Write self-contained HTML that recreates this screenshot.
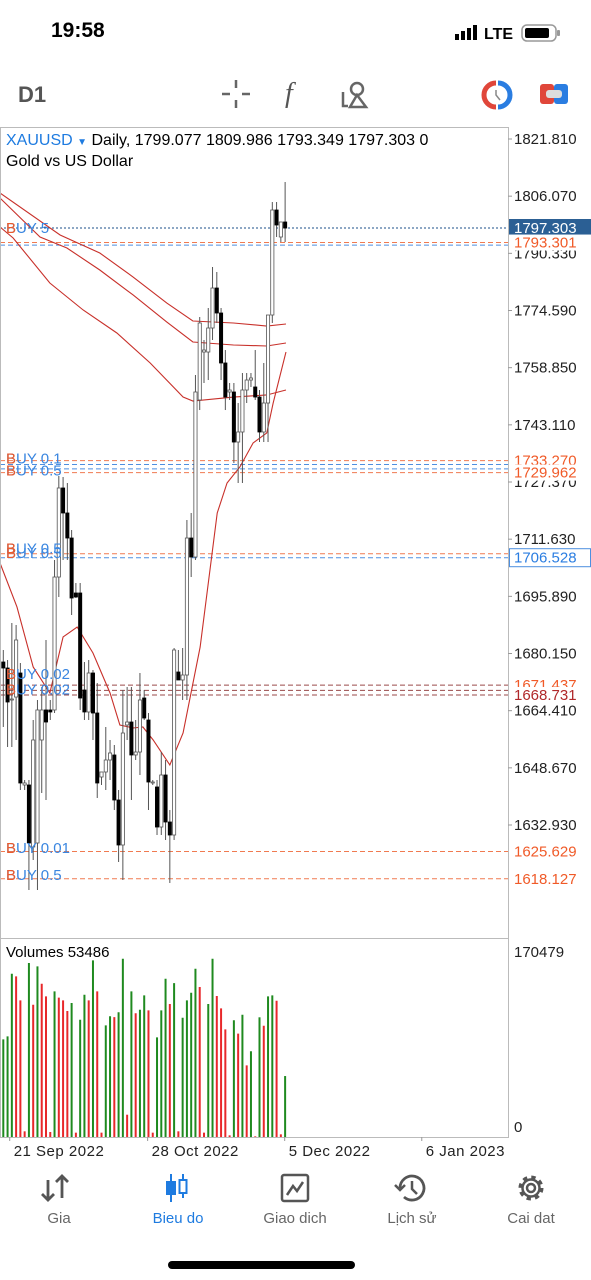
<!DOCTYPE html>
<html><head><meta charset="utf-8">
<style>
html,body{margin:0;padding:0;background:#fff;}
body{width:591px;height:1280px;position:relative;overflow:hidden;font-family:"Liberation Sans",sans-serif;color:#000;}
.abs{position:absolute;}
.tab{position:absolute;top:1210px;font-size:15px;color:#666;text-align:center;width:110px;}
</style></head>
<body>
<div class="abs" style="left:51px;top:19px;font-size:21px;font-weight:bold;">19:58</div>
<div class="abs" style="left:455px;top:22px;font-size:16px;font-weight:bold;">
  <svg width="110" height="22" style="vertical-align:middle"><rect x="0" y="12" width="4" height="6" fill="#000"/><rect x="6" y="9" width="4" height="9" fill="#000"/><rect x="12" y="6" width="4" height="12" fill="#000"/><rect x="18" y="3" width="4" height="15" fill="#000"/><text x="29" y="17" font-size="16" font-weight="bold" font-family="Liberation Sans">LTE</text><rect x="67" y="3" width="34" height="16" rx="5" fill="none" stroke="#999" stroke-width="1.5"/><rect x="70" y="6" width="24" height="10" rx="2" fill="#000"/><rect x="102" y="8" width="3" height="6" rx="1" fill="#999"/></svg>
</div>
<div class="abs" style="left:18px;top:82px;font-size:22px;font-weight:bold;color:#555;">D1</div>
<svg class="abs" style="left:220px;top:78px" width="40" height="34"><g stroke="#666" stroke-width="2.5"><line x1="16" y1="2" x2="16" y2="10"/><line x1="16" y1="22" x2="16" y2="30"/><line x1="2" y1="16" x2="10" y2="16"/><line x1="22" y1="16" x2="30" y2="16"/></g></svg>
<div class="abs" style="left:285px;top:78px;font-size:28px;font-style:italic;color:#555;font-family:'Liberation Serif',serif;">f</div>
<svg class="abs" style="left:340px;top:80px" width="32" height="30"><g stroke="#666" stroke-width="2.5" fill="none"><path d="M3 12 V26 H8"/><circle cx="17" cy="9" r="6"/><path d="M17 15 L10 27 H26 Z"/></g></svg>
<svg class="abs" style="left:481px;top:80px" width="32" height="30"><path d="M15 3 A12 12 0 0 0 15 27" stroke="#e0463a" stroke-width="5" fill="none"/><path d="M17 3 A12 12 0 0 1 17 27" stroke="#2a7de1" stroke-width="5" fill="none"/><path d="M15 10 L15 15 L19 20" stroke="#888" stroke-width="1.5" fill="none"/></svg>
<svg class="abs" style="left:539px;top:82px" width="32" height="26"><rect x="1" y="2" width="14" height="20" rx="3" fill="#e0463a"/><rect x="15" y="2" width="14" height="20" rx="3" fill="#2a7de1"/><rect x="7" y="8" width="16" height="8" rx="3" fill="#ddd"/></svg>

<svg id="chart" class="abs" style="left:0;top:0" width="591" height="1170"></svg>

<div class="abs" style="left:6px;top:132px;font-size:16px;white-space:nowrap;"><span style="color:#1e7be0">XAUUSD</span> <span style="color:#1e7be0;font-size:10px">▼</span> Daily, 1799.077 1809.986 1793.349 1797.303 0</div>
<div class="abs" style="left:6px;top:153px;font-size:16px;">Gold vs US Dollar</div>
<div class="abs" style="left:6px;top:944px;font-size:15px;">Volumes 53486</div>

<svg class="abs" style="left:40px;top:1172px" width="34" height="32"><g stroke="#555" stroke-width="2.8" fill="none"><path d="M8 8 V28 M2 22 L8 28 L14 22"/><path d="M22 26 V4 M16 10 L22 4 L28 10"/></g></svg>
<div class="tab" style="left:4px;">Gia</div>
<svg class="abs" style="left:162px;top:1172px" width="30" height="32"><g fill="#1e7be0" stroke="#1e7be0" stroke-width="2"><line x1="9" y1="2" x2="9" y2="30"/><rect x="5" y="10" width="8" height="12"/><line x1="21" y1="2" x2="21" y2="26"/><rect x="17.5" y="8" width="7" height="13" fill="#fff"/></g></svg>
<div class="tab" style="left:123px;color:#1e7be0;">Bieu do</div>
<svg class="abs" style="left:280px;top:1173px" width="32" height="32"><rect x="2" y="2" width="26" height="26" rx="2" stroke="#555" stroke-width="2.5" fill="none"/><path d="M7 22 L13 13 L17 18 L23 9" stroke="#555" stroke-width="2.5" fill="none"/></svg>
<div class="tab" style="left:240px;">Giao dich</div>
<svg class="abs" style="left:394px;top:1172px" width="36" height="32"><path d="M6 16 A12 12 0 1 1 10 25" stroke="#555" stroke-width="2.8" fill="none"/><path d="M1 13 L6 18 L11 13" stroke="#555" stroke-width="2.5" fill="none"/><path d="M18 9 V17 L23 22" stroke="#555" stroke-width="2.5" fill="none"/></svg>
<div class="tab" style="left:357px;">Lịch sử</div>
<svg class="abs" style="left:515px;top:1172px" width="32" height="32"><circle cx="16" cy="16" r="10" stroke="#555" stroke-width="5" stroke-dasharray="4 3.85" fill="none"/><circle cx="16" cy="16" r="8.5" stroke="#555" stroke-width="2.5" fill="#fff"/><circle cx="16" cy="16" r="4" stroke="#555" stroke-width="2.5" fill="none"/></svg>
<div class="tab" style="left:476px;">Cai dat</div>
<div class="abs" style="left:168px;top:1261px;width:187px;height:8px;border-radius:4px;background:#000;"></div>

<script>
const opens=[1677.81,1676.16,1667.35,1668.17,1674.78,1643.95,1643.95,1626.88,1627.98,1656.34,1664.60,1664.60,1664.60,1701.21,1725.72,1718.84,1711.95,1696.81,1696.81,1670.10,1664.05,1674.78,1663.77,1646.15,1647.53,1650.83,1652.21,1639.82,1627.43,1660.47,1661.29,1652.21,1653.03,1667.90,1661.84,1644.50,1643.40,1632.38,1646.70,1633.76,1630.18,1675.06,1672.86,1674.23,1711.95,1706.72,1749.95,1763.16,1763.16,1769.77,1780.78,1773.90,1760.14,1752.15,1752.15,1738.38,1741.14,1752.70,1755.45,1753.53,1750.77,1741.14,1749.12,1773.35,1802.26,1794.83,1798.96];
const highs=[1681.12,1678.36,1688.55,1688.00,1677.54,1645.32,1645.32,1661.84,1667.35,1670.93,1683.87,1667.35,1705.90,1729.02,1728.75,1727.10,1714.16,1699.56,1699.56,1677.81,1678.36,1675.61,1672.03,1647.53,1659.92,1656.34,1654.96,1642.57,1670.10,1670.93,1670.93,1661.84,1674.78,1670.10,1663.77,1645.32,1645.32,1653.03,1650.83,1637.06,1681.67,1681.12,1681.67,1716.91,1718.84,1756.83,1772.80,1766.47,1775.28,1786.57,1785.19,1775.28,1763.71,1754.63,1754.63,1749.12,1757.38,1757.38,1757.38,1763.71,1752.70,1760.14,1763.71,1804.46,1804.46,1798.96,1809.97];
const lows=[1659.92,1654.41,1654.41,1656.34,1642.57,1642.57,1615.04,1623.30,1615.04,1641.74,1639.82,1661.84,1663.77,1695.71,1705.90,1705.90,1690.75,1695.43,1664.60,1661.84,1661.84,1656.34,1640.37,1643.95,1642.57,1645.32,1637.06,1622.75,1617.79,1656.34,1639.82,1650.83,1646.70,1661.84,1637.06,1643.95,1630.18,1630.18,1628.80,1616.97,1628.80,1672.86,1667.35,1667.35,1701.21,1705.90,1747.19,1754.63,1755.45,1766.47,1771.15,1755.45,1747.19,1749.95,1732.60,1727.10,1727.10,1749.12,1753.53,1749.95,1738.38,1738.38,1738.38,1771.15,1794.83,1793.45,1793.45];
const closes=[1676.16,1666.80,1667.62,1683.87,1644.50,1644.50,1627.98,1656.34,1664.60,1664.60,1661.29,1664.05,1701.21,1725.72,1718.84,1711.95,1695.43,1695.71,1667.90,1664.05,1674.78,1663.77,1644.50,1647.53,1650.83,1652.76,1639.82,1627.43,1658.26,1661.29,1652.21,1653.03,1667.35,1662.39,1644.77,1644.77,1632.38,1646.70,1633.76,1630.18,1681.12,1672.86,1674.23,1711.95,1706.72,1752.15,1771.15,1763.71,1769.77,1780.78,1773.90,1760.14,1750.77,1752.70,1738.38,1741.14,1752.70,1755.45,1756.01,1750.77,1741.14,1749.12,1773.35,1802.26,1798.13,1798.96,1797.30];
const volumes=[87600,90300,146500,144100,122600,5100,156100,118700,153100,137500,126200,4500,130700,125000,122600,113000,120200,3900,105200,127600,122600,158500,130700,3900,100200,108300,107600,111900,159900,20000,130700,111000,114200,127100,113600,3900,89400,113600,142000,119300,138100,5100,107000,122600,129400,151000,134600,3900,119300,159900,126500,115400,96600,1500,104700,92700,109700,64300,76900,600,107400,99800,126200,127100,122300,2400,54700];
const envTopIdx=[-0.77,13.3,22.6,30.4,38.3,44.4,53.9,61.7,66.2];
const envTopVal=[1806.94,1795.38,1790.42,1783.81,1776.65,1771.70,1771.15,1770.32,1770.87];
const envMidIdx=[-0.77,8.6,14.9,22.6,30.4,38.3,44.4,53.9,61.7,66.2];
const envMidVal=[1805.56,1794.83,1791.80,1785.74,1778.86,1771.42,1765.92,1765.09,1764.82,1765.64];
const envLowIdx=[-0.77,2.3,10.9,18.7,26.6,34.4,42.1,44.4,53.9,61.7,66.2];
const envLowVal=[1797.58,1794.55,1782.16,1774.73,1768.40,1760.14,1750.77,1749.67,1750.77,1751.33,1752.70];
const maIdx=[-0.77,3.2,7.0,10.9,14.0,17.3,21.0,25.0,27.3,30.4,32.7,35.1,39.0,42.1,46.1,50.1,52.4,55.4,58.5,61.7,63.2,66.2];
const maVal=[1705.07,1692.96,1676.44,1669.28,1684.70,1687.45,1680.29,1669.28,1660.47,1659.64,1659.92,1656.34,1649.46,1658.26,1681.94,1718.84,1727.10,1731.51,1738.12,1740.87,1749.12,1763.16];
const priceTicks=[1821.810,1806.070,1790.330,1774.590,1758.850,1743.110,1727.370,1711.630,1695.890,1680.150,1664.410,1648.670,1632.930];
const volTicks=[170479,0];
const dateLabels=["21 Sep 2022","28 Oct 2022","5 Dec 2022","6 Jan 2023"];
const dateIdx=[1.5,33.8,65.9,98];
const levelPrices=[1797.303,1793.301,1792.6,1733.270,1732.2,1731.0,1729.962,1707.6,1706.528,1671.437,1670.0,1668.731,1625.629,1618.127];
const levelKinds=["cur","sl","buy","sl","buy","buy","sl","sl","buy","dk","dk","dk","sl","sl"];
const axisLabelPrices=[1797.303,1793.301,1733.270,1729.962,1706.528,1671.437,1668.731,1625.629,1618.127];
const axisLabelKinds=["cur","sl","sl","sl","buy","sl","dk","sl","sl"];
const orderLabels=[["BUY 5",1797.303],["BUY 0.1",1733.9],["BUY 0.5",1730.5],["BUY 0.5",1709.0],["BUY 0.5",1707.8],["BUY 0.02",1674.5],["BUY 0.02",1670.2],["BUY 0.01",1626.6],["BUY 0.5",1619.2]];

const NS="http://www.w3.org/2000/svg";
const svg=document.getElementById('chart');
const PX0=3.3, STEP=4.27;
function xOf(i){return PX0+i*STEP;}
function yOf(p){return 139+(1821.81-p)*3.632;}
function yVol(v){return 1137-v/170479*190;}
function mk(tag,attrs,parent){const e=document.createElementNS(NS,tag);for(const k in attrs)e.setAttribute(k,attrs[k]);(parent||svg).appendChild(e);return e;}

const frame=mk('g',{});


mk('rect',{x:0.5,y:127.5,width:508,height:1010,fill:'none',stroke:'#bbb','stroke-width':1},frame);
mk('line',{x1:0,y1:938.5,x2:508,y2:938.5,stroke:'#bbb'},frame);

const clipDef=mk('defs',{});
const cp=mk('clipPath',{id:'plot'},clipDef);
mk('rect',{x:1,y:128,width:507,height:810},cp);

const colors={cur:'#1b4f8a',sl:'#f07a50',buy:'#4d8fe0',dk:'#9a4a4a'};
const lv=mk('g',{'clip-path':'url(#plot)'});


levelPrices.forEach((p,k)=>{
  const l=mk('line',{x1:0,x2:508,y1:yOf(p),y2:yOf(p),stroke:colors[levelKinds[k]],'stroke-width':1,'stroke-dasharray':levelKinds[k]==='cur'?'2 2':'5 3'},lv);
  
  
});

function poly(idx,val,name){
  const pts=idx.map((v,i)=>xOf(v)+','+yOf(val[i])).join(' ');
  const pl=mk('polyline',{points:pts,fill:'none',stroke:'#c8302a','stroke-width':1.1,'clip-path':'url(#plot)'});
  
  
}
poly(envTopIdx,envTopVal,'envelope-upper');
poly(envMidIdx,envMidVal,'envelope-middle');
poly(envLowIdx,envLowVal,'envelope-lower');
poly(maIdx,maVal,'moving-average');

const cg=mk('g',{'clip-path':'url(#plot)'});
for(let i=0;i<opens.length;i++){
  const x=xOf(i), o=opens[i], c=closes[i];
  const g=mk('g',{},cg);
  
  
  mk('line',{x1:x,x2:x,y1:yOf(highs[i]),y2:yOf(lows[i]),stroke:'#555','stroke-width':1},g);
  const top=yOf(Math.max(o,c)), bot=yOf(Math.min(o,c));
  mk('rect',{x:x-1.6,y:top,width:3.2,height:Math.max(1,bot-top),fill:c>=o?'#fff':'#000',stroke:c>=o?'#555':'#000','stroke-width':0.8},g);
}

for(let i=0;i<volumes.length;i++){
  const up=i===0||volumes[i]>=volumes[i-1];
  const b=mk('line',{x1:xOf(i),x2:xOf(i),y1:1137,y2:yVol(volumes[i]),stroke:up?'#1f8a1f':'#e8282a','stroke-width':2});
  
  
}

priceTicks.forEach(p=>{
  const t=mk('text',{x:514,y:yOf(p)+5,'font-size':15,'font-family':'Liberation Sans',fill:'#222'});
  t.textContent=p.toFixed(3);
  
  
  mk('line',{x1:508,x2:512,y1:yOf(p),y2:yOf(p),stroke:'#999'});
});
volTicks.forEach(v=>{
  const t=mk('text',{x:514,y:yVol(v)-5+ (v===0?0:15),'font-size':15,'font-family':'Liberation Sans',fill:'#222'});
  t.textContent=String(v);
  
  
});
dateLabels.forEach((d,k)=>{
  const x=xOf(dateIdx[k]);
  mk('line',{x1:x,x2:x,y1:1137,y2:1141,stroke:'#999'});
  const t=mk('text',{x:x+4,y:1156,'font-size':15,'font-family':'Liberation Sans',fill:'#222','letter-spacing':'0.5'});
  t.textContent=d;
  
  
});
axisLabelPrices.forEach((p,k)=>{
  const kind=axisLabelKinds[k], y=yOf(p);
  const g=mk('g',{});
  
  
  if(kind==='cur'){
    mk('rect',{x:509,y:y-9,width:82,height:18,fill:'#2b5f94'},g);
  } else if(kind==='buy'){
    mk('rect',{x:509.5,y:y-9,width:81,height:18,fill:'#fff',stroke:'#4d8fe0'},g);
  } else {
    mk('rect',{x:509,y:y-8,width:82,height:16,fill:'#fff'},g);
  }
  const t=mk('text',{x:514,y:y+5,'font-size':15,'font-family':'Liberation Sans',fill:kind==='cur'?'#fff':(kind==='buy'?'#2a7de1':(kind==='dk'?'#b0282a':'#f05a28'))},g);
  t.textContent=p.toFixed(3);
});
orderLabels.forEach(([s,p])=>{
  const t=mk('text',{x:6,y:yOf(p)+5,'font-size':15,'font-family':'Liberation Sans',fill:'#3a86e0'});
  t.textContent=s;
  
  
  const b=mk('text',{x:6,y:yOf(p)+5,'font-size':15,'font-family':'Liberation Sans',fill:'#f05a28'});
  b.textContent='B';
});
</script>
</body></html>
